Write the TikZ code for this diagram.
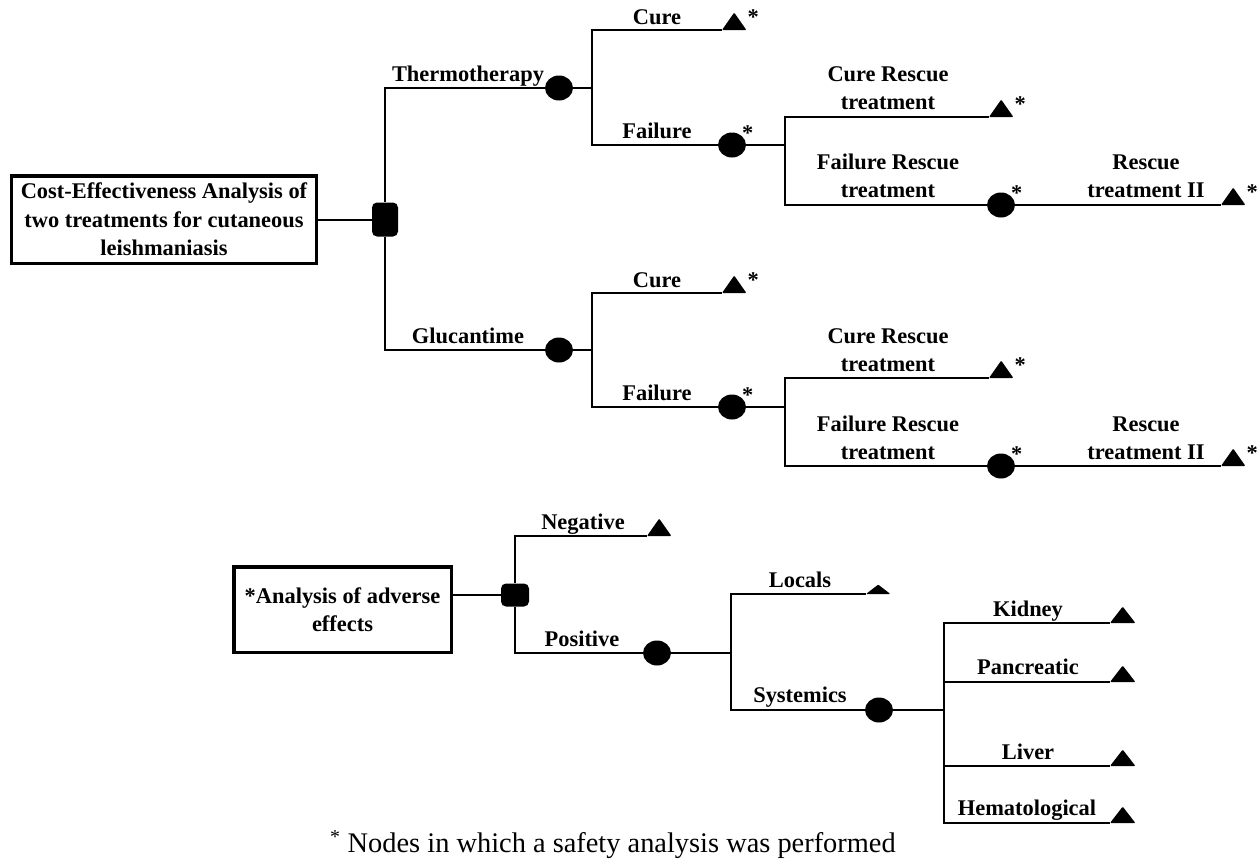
\documentclass[tikz,border=0pt]{standalone}
\usepackage{fontspec}
\setmainfont{Liberation Serif}
\usetikzlibrary{shapes.geometric}
\newcommand{\lbl}{\bfseries\fontsize{22.5}{28.5}\selectfont}
\begin{document}
\begin{tikzpicture}[x=1bp,y=-1bp,
  ln/.style={line width=2bp},
  box/.style={draw,line width=3.5bp,align=center,inner sep=0pt,font=\lbl},
  dec/.style={fill,rounded corners=5bp,inner sep=0pt},
  chance/.style={ellipse,fill,minimum width=28bp,minimum height=25bp,inner sep=0pt},
  term/.style={inner sep=0pt,minimum width=24bp,minimum height=17bp,anchor=south west},
  lab/.style={font=\lbl,anchor=south,text depth=0pt,inner sep=0pt,align=center},
  ast/.style={font=\lbl,inner sep=0pt,anchor=north west},
]
\useasboundingbox (0,0) rectangle (1258,868);

% ---------- upper tree ----------
\node[box,minimum width=304.5bp,minimum height=87.5bp] (root) at (164,219.5)
  {Cost-Effectiveness Analysis of\\two treatments for cutaneous\\leishmaniasis};
\node[dec,minimum width=26bp,minimum height=34bp] (d1) at (385,219.5) {};

\node[chance] (c1) at (559,88) {};
\coordinate (j1) at (592,88);
\node[term] (t1) at (722,30) {};
\node[chance] (c2) at (732,145) {};
\coordinate (j2) at (785,145);
\node[term] (t2) at (989,117) {};
\node[chance] (c3) at (1001,205) {};
\node[term] (t3) at (1221,205) {};

\node[chance] (c4) at (559,350) {};
\coordinate (j3) at (592,350);
\node[term] (t4) at (722,293) {};
\node[chance] (c5) at (732,407) {};
\coordinate (j4) at (785,407);
\node[term] (t5) at (989,378) {};
\node[chance] (c6) at (1001,466) {};
\node[term] (t6) at (1221,466) {};

\draw[ln] (root.east) -- (d1.west);
\draw[ln] (c1.west) -| (d1.north);
\draw[ln] (c4.west) -| (d1.south);

\draw[ln] (c1.east) -- (j1);
\draw[ln] (t1.south west) -| (j1) |- (c2.west);
\draw[ln] (c2.east) -- (j2);
\draw[ln] (t2.south west) -| (j2) |- (c3.west);
\draw[ln] (c3.east) -- (t3.south west);

\draw[ln] (c4.east) -- (j3);
\draw[ln] (t4.south west) -| (j3) |- (c5.west);
\draw[ln] (c5.east) -- (j4);
\draw[ln] (t5.south west) -| (j4) |- (c6.west);
\draw[ln] (c6.east) -- (t6.south west);

\node[lab] (lth) at (468,82) {Thermotherapy};
\node[lab] (lcu1) at (657,25) {Cure};
\node[lab] (lfa1) at (657,139) {Failure};
\node[lab] (lcr1) at (888,110) {Cure Rescue\\treatment};
\node[lab] (lfr1) at (888,198) {Failure Rescue\\treatment};
\node[lab] (lrt1) at (1146,198) {Rescue\\treatment II};

\node[lab] (lgl) at (468,344) {Glucantime};
\node[lab] (lcu2) at (657,288) {Cure};
\node[lab] (lfa2) at (657,401) {Failure};
\node[lab] (lcr2) at (888,372) {Cure Rescue\\treatment};
\node[lab] (lfr2) at (888,460) {Failure Rescue\\treatment};
\node[lab] (lrt2) at (1146,460) {Rescue\\treatment II};

\node[ast] (a1) at ([shift={(1,-3)}]t1.north east) {*};
\node[ast] (a2) at ([shift={(1,-3)}]t2.north east) {*};
\node[ast] (a3) at ([shift={(1,-3)}]t3.north east) {*};
\node[ast] (a4) at ([shift={(1,-3)}]t4.north east) {*};
\node[ast] (a5) at ([shift={(1,-3)}]t5.north east) {*};
\node[ast] (a6) at ([shift={(1,-3)}]t6.north east) {*};
\node[ast] (a7) at ([shift={(0,-11)}]c2.north east) {*};
\node[ast] (a8) at ([shift={(0,-11)}]c3.north east) {*};
\node[ast] (a9) at ([shift={(0,-11)}]c5.north east) {*};
\node[ast] (a10) at ([shift={(0,-11)}]c6.north east) {*};

% ---------- lower tree ----------
\node[box,minimum width=217.5bp,minimum height=85.5bp] (root2) at (342.5,609.5)
  {*Analysis of adverse\\effects};
\node[dec,minimum width=28bp,minimum height=23bp] (d2) at (515,595) {};
\node[term] (t7) at (647,536) {};
\node[chance] (c7) at (657,653) {};
\coordinate (j5) at (731,653);
\node[term,minimum height=9bp] (t8) at (866,594) {};
\node[chance] (c8) at (879,710) {};
\coordinate (j6) at (944,710);
\node[term,minimum width=25bp,minimum height=16bp] (t9) at (1110,623) {};
\node[term,minimum width=25bp,minimum height=16bp] (t10) at (1110,682) {};
\node[term,minimum width=25bp,minimum height=16bp] (t11) at (1110,766) {};
\node[term,minimum width=25bp,minimum height=16bp] (t12) at (1110,823) {};

\draw[ln] (d2.west) -- (d2.west -| root2.east);
\draw[ln] (t7.south west) -| (d2.north);
\draw[ln] (c7.west) -| (d2.south);
\draw[ln] (c7.east) -- (j5);
\draw[ln] (t8.south west) -| (j5) |- (c8.west);
\draw[ln] (c8.east) -- (j6);
\draw[ln] (t9.south west) -| (j6) |- (t12.south west);
\draw[ln] (t10.south west) -- (t10.south west -| j6);
\draw[ln] (t11.south west) -- (t11.south west -| j6);

\node[lab] (lneg) at (583,530) {Negative};
\node[lab] (lpos) at (582,647) {Positive};
\node[lab] (lloc) at (800,588) {Locals};
\node[lab] (lsys) at (800,703) {Systemics};
\node[lab] (lkid) at (1028,617) {Kidney};
\node[lab] (lpan) at (1028,675) {Pancreatic};
\node[lab] (lliv) at (1028,760) {Liver};
\node[lab] (lhem) at (1027,816) {Hematological};

% terminal triangles
\foreach \t in {t1,t2,t3,t4,t5,t6,t7,t8,t9,t10,t11,t12}
  \fill[rounded corners=1bp] (\t.south west) -- (\t.south east) -- (\t.north) -- cycle;

% ---------- footnote ----------
\node[anchor=base west,inner sep=0pt,font=\fontsize{28.5}{34}\selectfont] (note) at (330,852)
  {\textsuperscript{*} Nodes in which a safety analysis was performed};
\end{tikzpicture}
\end{document}
